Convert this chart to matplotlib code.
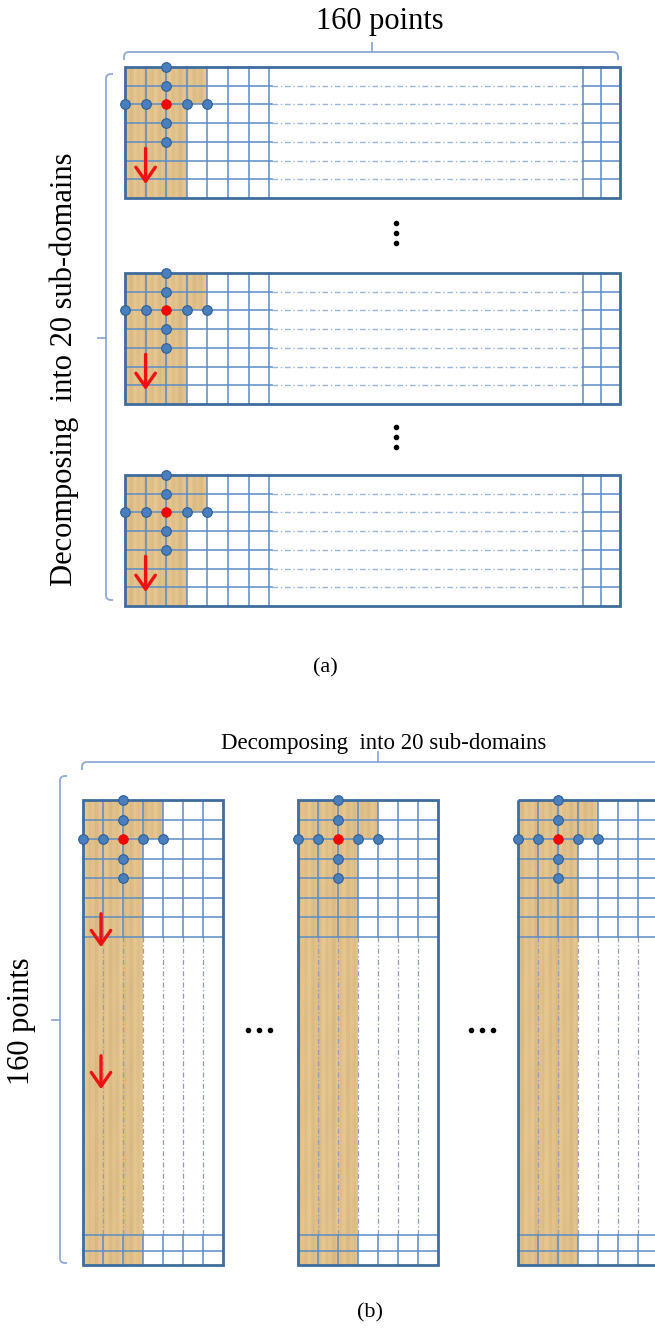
import matplotlib
matplotlib.use("Agg")
import matplotlib.pyplot as plt
from matplotlib.patches import Rectangle, FancyArrowPatch, PathPatch
from matplotlib.path import Path
import numpy as np

# ---------------- diagram parameters ----------------
W, H = 655, 1333
n_cols = 7
n_rows = 7

# panel (a): horizontal strips
a_tops = [67, 273, 475]
a_height = 131
a_left, a_right = 125, 620
a_col_w = 20.6
a_right_cols = [583, 601]
a_arrow_rows = [4.2, 6.4]

# panel (b): vertical strips
b_lefts = [83, 298, 518]
b_width = 140
b_top, b_bottom = 800, 1265
b_upper_rows = 7
b_upper_bottom = 937
b_lower_rows = [1235, 1251]
b_arrows = [(911, 950), (1053, 1092)]

label_a_top = "160 points"
label_a_left = "Decomposing  into 20 sub-domains"
label_b_top = "Decomposing  into 20 sub-domains"
label_b_left = "160 points"

TAN = "#e0c08a"
GRID = "#5b8cc6"
EDGE = "#3f6c9f"
DASH = "#9ab7dc"
DOT = "#4a7fbd"
DOT_EDGE = "#2f5f96"
BRACE = "#8eaad8"
SERIF = ["Liberation Serif", "DejaVu Serif"]

fig = plt.figure(figsize=(W / 100, H / 100), dpi=100)
ax = fig.add_axes([0, 0, 1, 1])
ax.set_xlim(0, W)
ax.set_ylim(H, 0)
ax.axis("off")

# deterministic wood-grain texture (vertical streaks)
xx = np.arange(W, dtype=float)
streak = (0.5 * np.sin(xx * 0.9) + 0.3 * np.sin(xx * 0.37 + 1.0) + 0.2 * np.sin(xx * 2.3 + 0.5))
yy = np.arange(H, dtype=float)[:, None]
grain = streak[None, :] + 0.15 * np.sin(yy * 0.08 + xx[None, :] * 0.2)
base = np.array([0xe0, 0xc0, 0x8a]) / 255.0
tex = np.clip(base[None, None, :] * (1 + 0.045 * grain[:, :, None]), 0, 1)


def tan_region(polys):
    verts, codes = [], []
    for (x0, y0, x1, y1) in polys:
        verts += [(x0, y0), (x1, y0), (x1, y1), (x0, y1), (x0, y0)]
        codes += [Path.MOVETO, Path.LINETO, Path.LINETO, Path.LINETO, Path.CLOSEPOLY]
    patch = PathPatch(Path(verts, codes), facecolor="none", edgecolor="none")
    ax.add_patch(patch)
    im = ax.imshow(tex, extent=(0, W, H, 0), zorder=1, interpolation="bilinear")
    im.set_clip_path(patch)


def stencil(cx, cy, dx, dy):
    xs = [cx + k * dx for k in (-2, -1, 1, 2)] + [cx] * 4
    ys = [cy] * 4 + [cy + k * dy for k in (-2, -1, 1, 2)]
    ax.scatter(xs, ys, s=48, c=DOT, edgecolors=DOT_EDGE, linewidths=0.8, zorder=6)
    ax.scatter([cx], [cy], s=48, c="#ff0000", edgecolors="#e00000", linewidths=0.5, zorder=7)


def arrow(x, y0, y1):
    p = FancyArrowPatch((x, y0), (x, y1), arrowstyle="->,head_length=0.5,head_width=0.35",
                        mutation_scale=20, color="#ee1111", lw=2.4, zorder=8)
    ax.add_patch(p)


def hbrace(x0, x1, y, xm, up=8, drop=8):
    r = 5
    ax.add_patch(PathPatch(Path(
        [(x0, y + drop), (x0, y + r), (x0, y), (x0 + r, y), (x1 - r, y), (x1, y), (x1, y + r), (x1, y + drop)],
        [Path.MOVETO, Path.LINETO, Path.CURVE3, Path.CURVE3, Path.LINETO, Path.CURVE3, Path.CURVE3, Path.LINETO]),
        fill=False, edgecolor=BRACE, lw=1.3))
    ax.plot([xm, xm], [y, y - up], color=BRACE, lw=1.3)


def vbrace(x, y0, y1, ym, left=8, ext=7):
    r = 5
    ax.add_patch(PathPatch(Path(
        [(x + ext, y0), (x + r, y0), (x, y0), (x, y0 + r), (x, y1 - r), (x, y1), (x + r, y1), (x + ext, y1)],
        [Path.MOVETO, Path.LINETO, Path.CURVE3, Path.CURVE3, Path.LINETO, Path.CURVE3, Path.CURVE3, Path.LINETO]),
        fill=False, edgecolor=BRACE, lw=1.3))
    ax.plot([x, x - left], [ym, ym], color=BRACE, lw=1.3)


# ---------------- panel (a) ----------------
for top in a_tops:
    rh = a_height / n_rows
    cols = [a_left + i * a_col_w for i in range(n_cols + 1)]
    rows = [top + j * rh for j in range(n_rows + 1)]
    bot = top + a_height
    tan_region([(cols[0], top, cols[4], top + 2 * rh), (cols[0], top + 2 * rh - 0.5, cols[3], bot)])
    for c in cols[1:]:
        ax.plot([c, c], [top, bot], color=GRID, lw=1.1, zorder=3)
    for c in a_right_cols:
        ax.plot([c, c], [top, bot], color=GRID, lw=1.1, zorder=3)
    for r in rows[1:-1]:
        ax.plot([cols[0], cols[-1] + 3], [r, r], color=GRID, lw=1.1, zorder=3)
        ax.plot([a_right_cols[0], a_right], [r, r], color=GRID, lw=1.1, zorder=3)
        ax.plot([cols[-1] + 3, a_right_cols[0]], [r, r], color=DASH, lw=1.0,
                dashes=(4, 2, 1, 2), zorder=2)
    ax.add_patch(Rectangle((a_left, top), a_right - a_left, a_height, fill=False,
                           edgecolor=EDGE, lw=2.0, zorder=4))
    stencil(cols[2], rows[2], a_col_w, rh)
    arrow(cols[1], top + a_arrow_rows[0] * rh, top + a_arrow_rows[1] * rh)

for yc in (233, 437):
    ax.scatter([396] * 3, [yc - 10, yc, yc + 10], s=9, c="black", zorder=5)

hbrace(124, 618, 52, 372, up=9, drop=8)
vbrace(106, 74, 600, 338, left=8, ext=7)
ax.text(380, 22, label_a_top, ha="center", va="center", fontsize=22, family=SERIF)
ax.text(64, 369, label_a_left, ha="center", va="center", fontsize=22, family=SERIF, rotation=90)
ax.text(325, 668, "(a)", ha="center", va="center", fontsize=16, family=SERIF)

# ---------------- panel (b) ----------------
b_cw = b_width / n_cols
for k, left in enumerate(b_lefts):
    cols = [left + i * b_cw for i in range(n_cols + 1)]
    rh = (b_upper_bottom - b_top) / b_upper_rows
    rows = [b_top + j * rh for j in range(b_upper_rows + 1)]
    right = cols[-1]
    tan_region([(cols[0], b_top, cols[4], b_top + 2 * rh), (cols[0], b_top + 2 * rh - 0.5, cols[3], b_bottom)])
    for c in cols[1:-1]:
        ax.plot([c, c], [b_top, b_upper_bottom], color=GRID, lw=1.1, zorder=3)
        ax.plot([c, c], [b_lower_rows[0], b_bottom], color=GRID, lw=1.1, zorder=3)
        ax.plot([c, c], [b_upper_bottom, b_lower_rows[0]], color="#8f9fb8", lw=0.9,
                dashes=(4, 2, 1, 2), zorder=2)
    for r in rows[1:] + b_lower_rows:
        ax.plot([cols[0], right], [r, r], color=GRID, lw=1.1, zorder=3)
    ax.add_patch(Rectangle((left, b_top), b_width, b_bottom - b_top, fill=False,
                           edgecolor=EDGE, lw=2.0, zorder=4))
    stencil(cols[2], rows[2], b_cw, rh)
    if k == 0:
        for y0, y1 in b_arrows:
            arrow(cols[0] + 18, y0, y1)

for xc in (259, 482):
    ax.scatter([xc - 11, xc, xc + 11], [1030] * 3, s=9, c="black", zorder=5)

hbrace(82, 700, 762, 378, up=10, drop=8)
vbrace(60, 776, 1263, 1020, left=8, ext=7)
ax.text(384, 743, label_b_top, ha="center", va="center", fontsize=16.5, family=SERIF)
ax.text(22, 1021, label_b_left, ha="center", va="center", fontsize=22, family=SERIF, rotation=90)
ax.text(370, 1313, "(b)", ha="center", va="center", fontsize=16, family=SERIF)

fig.savefig("out.png", dpi=100, facecolor="white")
